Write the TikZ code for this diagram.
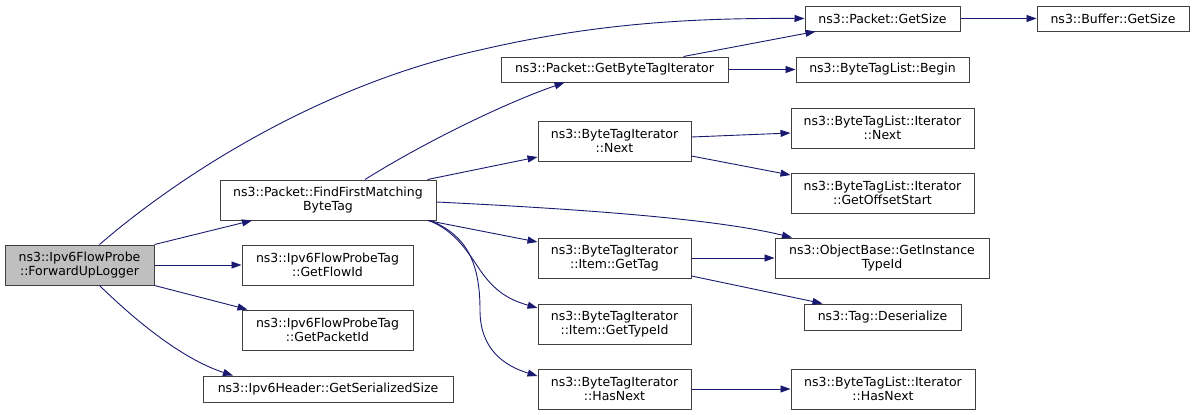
\documentclass[tikz,border=0pt]{standalone}
\usepackage{fontspec}
\setmainfont{DejaVu Sans}
\usetikzlibrary{arrows.meta}
\definecolor{edgeblue}{HTML}{191970}
\definecolor{boxline}{HTML}{404040}
\definecolor{rootfill}{HTML}{BFBFBF}

\begin{document}
\begin{tikzpicture}[x=1pt,y=-1pt,
  fn/.style={draw=boxline,line width=1pt,fill=white,inner sep=0pt,align=center,font=\fontsize{12.5}{14.3}\selectfont},
  call/.style={draw=edgeblue,line width=0.9pt,-{Triangle[length=10pt,width=7pt]}}]
\useasboundingbox (0,0) rectangle (1195,415);

% first column
\node[fn,fill=rootfill,minimum width=149pt,minimum height=40pt] (fwd) at (79.5,265) {ns3::Ipv6FlowProbe\\::ForwardUpLogger};

% second column
\node[fn,minimum width=216pt,minimum height=40pt] (find) at (328,200) {ns3::Packet::FindFirstMatching\\ByteTag};
\node[fn,minimum width=171pt,minimum height=40pt] (flowid) at (327.5,265) {ns3::Ipv6FlowProbeTag\\::GetFlowId};
\node[fn,minimum width=171pt,minimum height=40pt] (pktid) at (327.5,330) {ns3::Ipv6FlowProbeTag\\::GetPacketId};
\node[fn,minimum width=250pt,minimum height=26pt] (hdr) at (328,389) {ns3::Ipv6Header::GetSerializedSize};

% third column
\node[fn,minimum width=227pt,minimum height=25pt] (gbti) at (614.5,69.5) {ns3::Packet::GetByteTagIterator};
\node[fn,minimum width=153pt,minimum height=40pt] (btinext) at (614.5,141) {ns3::ByteTagIterator\\::Next};
\node[fn,minimum width=153pt,minimum height=40pt] (gettag) at (614.5,258) {ns3::ByteTagIterator\\::Item::GetTag};
\node[fn,minimum width=153pt,minimum height=40pt] (gettypeid) at (614.5,324) {ns3::ByteTagIterator\\::Item::GetTypeId};
\node[fn,minimum width=153pt,minimum height=40pt] (hasnext) at (614.5,389) {ns3::ByteTagIterator\\::HasNext};

% fourth column
\node[fn,minimum width=155pt,minimum height=25pt] (gsize) at (882.5,18.5) {ns3::Packet::GetSize};
\node[fn,minimum width=173pt,minimum height=25pt] (begin) at (882.5,69.5) {ns3::ByteTagList::Begin};
\node[fn,minimum width=183pt,minimum height=40pt] (itnext) at (882.5,128) {ns3::ByteTagList::Iterator\\::Next};
\node[fn,minimum width=183pt,minimum height=40pt] (offset) at (882.5,193) {ns3::ByteTagList::Iterator\\::GetOffsetStart};
\node[fn,minimum width=214pt,minimum height=40pt] (instid) at (882,258) {ns3::ObjectBase::GetInstance\\TypeId};
\node[fn,minimum width=157pt,minimum height=26pt] (deser) at (882.5,317) {ns3::Tag::Deserialize};
\node[fn,minimum width=184pt,minimum height=40pt] (ithasnext) at (883,389) {ns3::ByteTagList::Iterator\\::HasNext};

% last column
\node[fn,minimum width=152pt,minimum height=25pt] (bsize) at (1113,18.5) {ns3::Buffer::GetSize};

% calls from ForwardUpLogger
\draw[call] ([xshift=20pt]fwd.north) .. controls (180,175) and (320,85) .. (480,50) .. controls (600,22) and (700,18) .. (gsize.west);
\draw[call] (fwd.north east) -- ([xshift=-76pt]find.south);
\draw[call] (fwd.east) -- (flowid.west);
\draw[call] (fwd.south east) -- ([xshift=-80pt]pktid.north);
\draw[call] ([xshift=20pt]fwd.south) .. controls (140,325) and (185,360) .. ([xshift=-95pt]hdr.north);

% calls from FindFirstMatchingByteTag
\draw[call] ([xshift=37pt]find.north) .. controls (420,145) and (500,105) .. ([xshift=-50pt]gbti.south);
\draw[call] ([xshift=-9pt]find.north east) -- ([yshift=-16pt]btinext.west);
\draw[call] ([yshift=-2pt]find.east) .. controls (600,210) and (720,220) .. ([xshift=-90pt]instid.north);
\draw[call] ([xshift=-9pt]find.south east) -- ([yshift=16pt]gettag.west);
\draw[call] ([xshift=-8pt]find.south east) .. controls (455,230) and (470,255) .. (480,270) .. controls (495,292) and (510,300) .. ([yshift=16pt]gettypeid.west);
\draw[call] ([xshift=-6pt]find.south east) .. controls (465,235) and (480,260) .. (480,310) .. controls (480,350) and (505,366) .. ([yshift=13pt]hasnext.west);

% calls in the third column
\draw[call] ([xshift=69pt]gbti.north) -- ([xshift=-67pt]gsize.south);
\draw[call] (gbti.east) -- (begin.west);
\draw[call] ([yshift=4pt]btinext.east) -- ([yshift=-5pt]itnext.west);
\draw[call] ([yshift=-15pt]btinext.east) -- ([yshift=18pt]offset.west);
\draw[call] (gettag.east) -- (instid.west);
\draw[call] ([yshift=-18pt]gettag.east) -- ([xshift=-60pt]deser.north);
\draw[call] (hasnext.east) -- (ithasnext.west);
\draw[call] (gsize.east) -- (bsize.west);

\end{tikzpicture}
\end{document}
